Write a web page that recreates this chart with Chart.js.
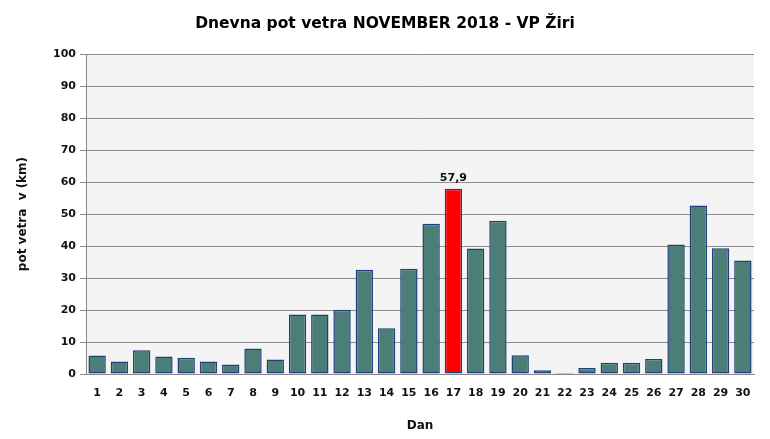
<!DOCTYPE html>
<html><head><meta charset="utf-8">
<script src="https://cdn.jsdelivr.net/npm/chart.js@4/dist/chart.umd.min.js"></script>
<style>html,body{margin:0;padding:0;background:#fff}#wrap{width:770px;height:439px}</style>
</head><body><div id="wrap"><canvas id="c" width="770" height="439"></canvas></div>
<script>
const days = ['1','2','3','4','5','6','7','8','9','10','11','12','13','14','15','16','17','18','19','20','21','22','23','24','25','26','27','28','29','30'];
const windRun = [5.8,3.9,7.4,5.5,5.1,3.9,3.0,8.0,4.5,18.6,18.6,20.1,32.6,14.3,32.9,47.0,57.9,39.2,47.9,5.9,1.2,0.3,1.9,3.5,3.5,4.7,40.5,52.7,39.3,35.5];
const yTicks = [0,10,20,30,40,50,60,70,80,90,100];
const titleText = 'Dnevna pot vetra NOVEMBER 2018 - VP Žiri';
const yTitle = 'pot vetra  v (km)';
const xTitle = 'Dan';
const maxIdx = windRun.indexOf(Math.max(...windRun));

const FONT = 'DejaVu Sans';
const bgPlugin = {
  id:'plotBg',
  beforeDraw(chart){
    const {ctx, chartArea:a} = chart;
    ctx.save(); ctx.fillStyle='#f4f4f4'; ctx.fillRect(a.left,a.top,a.right-a.left,a.bottom-a.top); ctx.restore();
  }
};
const labelPlugin = {
  id:'maxLabel',
  afterDatasetsDraw(chart){
    const meta = chart.getDatasetMeta(0);
    const el = meta.data[maxIdx];
    const ctx = chart.ctx;
    ctx.save();
    ctx.font = 'bold 11px "'+FONT+'"';
    ctx.fillStyle='#111'; ctx.textAlign='center'; ctx.textBaseline='bottom';
    ctx.fillText(windRun[maxIdx].toFixed(1).replace('.',','), el.x, el.y-5);
    ctx.restore();
  }
};
new Chart(document.getElementById('c'), {
  type:'bar',
  data:{labels:days, datasets:[{
    data:windRun,
    backgroundColor: windRun.map((v,i)=> i===maxIdx ? '#ff0000' : '#4a7e77'),
    borderColor:'#203f7c', borderWidth:1.5, borderSkipped:false,
    categoryPercentage:1, barPercentage:0.78
  }]},
  options:{
    responsive:false, animation:false, devicePixelRatio:1,
    layout:{padding:0},
    plugins:{
      legend:{display:false}, tooltip:{enabled:false},
      title:{display:true, text:titleText, color:'#000', font:{family:FONT, size:15.5, weight:'bold'}, padding:{top:15,bottom:20.5}}
    },
    scales:{
      x:{
        grid:{display:false, drawTicks:false},
        border:{color:'#888', width:1},
        ticks:{color:'#111', font:{family:FONT, size:11, weight:'bold'}, padding:13, maxRotation:0, autoSkip:false},
        title:{display:true, text:xTitle, color:'#111', font:{family:FONT, size:12, weight:'bold'}, padding:{top:18,bottom:6}},
        afterFit(s){ s.height = 65; }
      },
      y:{
        min:0, max:100,
        afterBuildTicks(s){ s.ticks = yTicks.map(v=>({value:v})); },
        grid:{color:'#8c8c8c', lineWidth:1, tickLength:6, drawTicks:true},
        border:{color:'#888', width:1},
        ticks:{color:'#111', font:{family:FONT, size:11, weight:'bold'}, padding:4},
        title:{display:true, text:yTitle, color:'#111', font:{family:FONT, size:12, weight:'bold'}, padding:{top:16,bottom:0}},
        afterFit(s){ s.width = 86; }
      },
      yRight:{
        position:'right', min:0, max:100,
        grid:{display:false, drawTicks:false}, border:{display:false},
        ticks:{display:false}, title:{display:false},
        afterFit(s){ s.width = 16; }
      }
    }
  },
  plugins:[bgPlugin, labelPlugin]
});
</script></body></html>
